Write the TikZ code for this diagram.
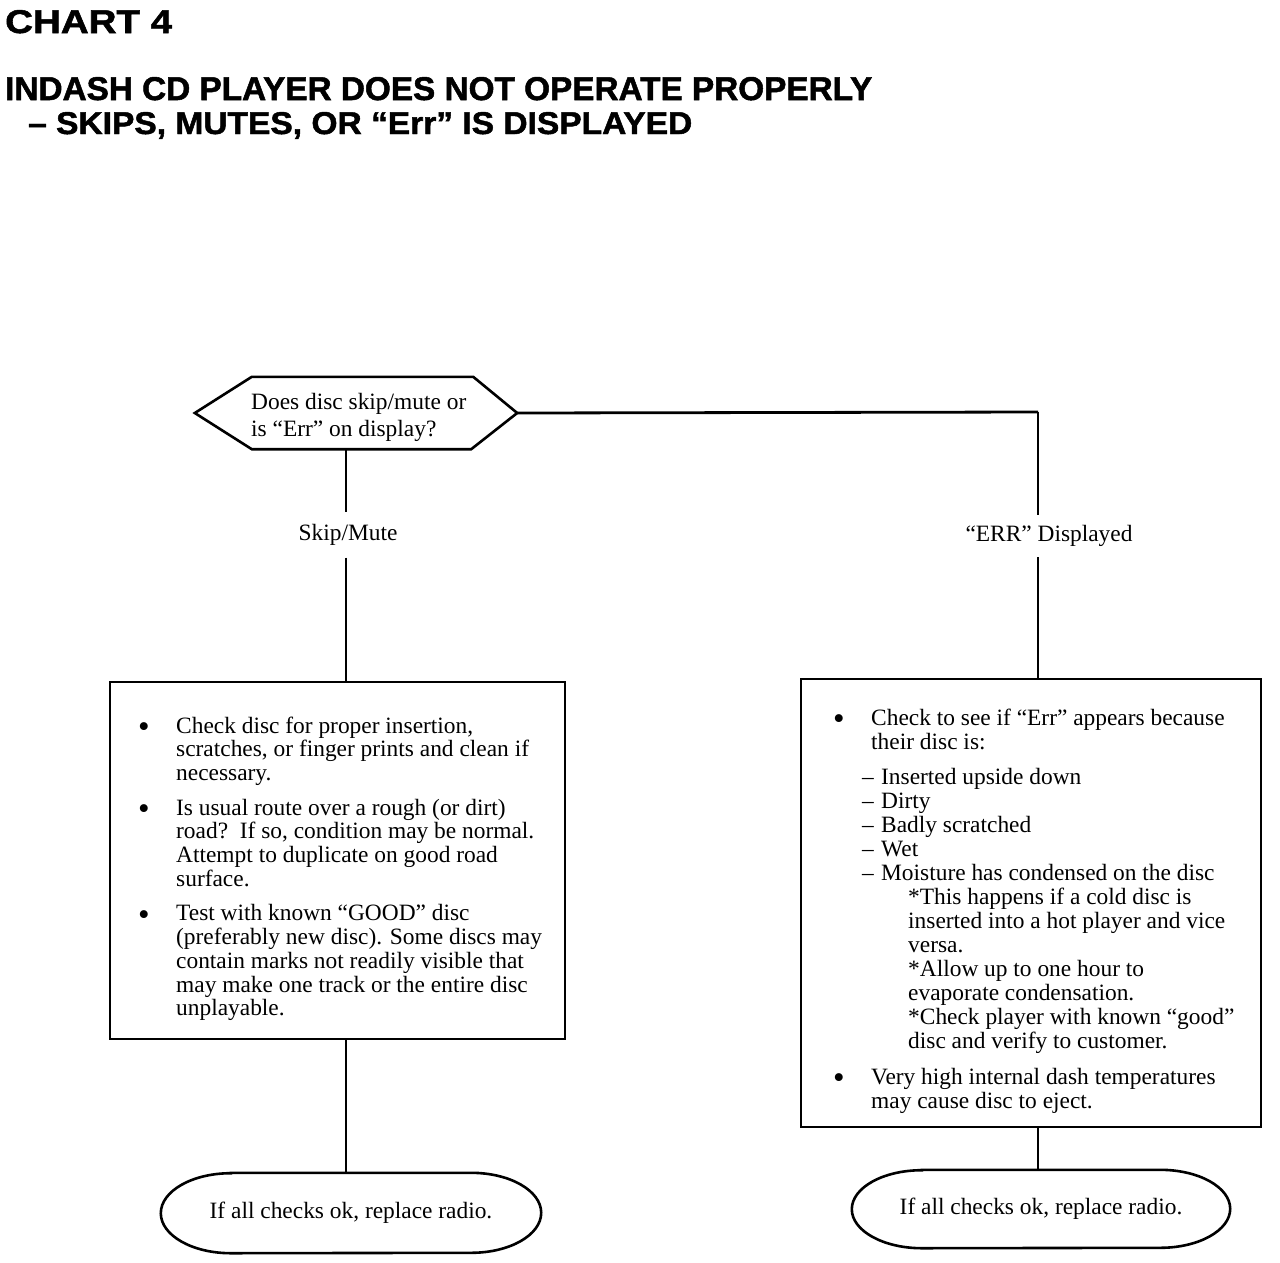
\documentclass[tikz,border=0pt]{standalone}
\usepackage{fontspec}
\setmainfont{Liberation Serif}
\newfontfamily\hfont{Liberation Sans}[BoldFeatures={FakeBold=1.5}]
\usepackage{graphicx}
\begin{document}
\begin{tikzpicture}[x=1pt,y=-1pt,
  every node/.style={inner sep=0pt, font=\fontsize{23.4}{23.7}\selectfont},
  boxline/.style={line width=2.6pt},
  conn/.style={line width=2pt},
  frame/.style={draw, line width=2.6pt, minimum width=#1}
]
\useasboundingbox (0,0) rectangle (1280,1262);
\newcommand{\bl}{\makebox[38pt][l]{\raisebox{-4.5pt}{\fontsize{33}{24}\selectfont\textbullet}}}
\newcommand{\tx}{\hspace*{38pt}}
\newcommand{\dl}{\hspace*{29pt}\makebox[19pt][l]{–}}
\newcommand{\al}{\hspace*{75pt}}

% titles
\node[anchor=base west] (t0) at (5,33) {\resizebox{167pt}{23pt}{\hfont\bfseries CHART 4}};
\node[anchor=base west] (t1) at (5,100) {\resizebox{867pt}{23pt}{\hfont\bfseries INDASH CD PLAYER DOES NOT OPERATE PROPERLY}};
\node[anchor=base west] (t2) at (28,134) {\resizebox{664pt}{22pt}{\hfont\bfseries – SKIPS, MUTES, OR “Err” IS DISPLAYED}};

% decision hexagon
\node[minimum width=322pt, minimum height=72pt] (q) at (356,413) {};
\draw[boxline, line join=miter] (q.west) -- ([xshift=57pt]q.north west) -- ([xshift=-44pt]q.north east) -- (q.east)
  -- ([xshift=-46pt]q.south east) -- ([xshift=57pt]q.south west) -- cycle;
\node[anchor=base west] (qt) at (251,409) {\fontsize{23.4}{27}\selectfont
  \begin{tabular}[t]{@{}l@{}}Does disc skip/mute or\\ is “Err” on display?\end{tabular}};
\coordinate (qS) at ([xshift=-10pt]q.south);
\coordinate (rc) at (1038,412);

% branch labels
\node[minimum height=45pt] (skip) at (348,535) {Skip/Mute};
\node[minimum height=42pt] (err) at (1049,536) {“ERR” Displayed};

% boxes
\node[frame=455pt, minimum height=357pt] (lbox) at (337.5,860.5) {};
\node[frame=460pt, minimum height=448pt] (rbox) at (1031,903) {};

\node[anchor=base west] (ltext) at (138,733) {\fontsize{23.4}{23.7}\selectfont
\begin{tabular}[t]{@{}l@{}}
\bl Check disc for proper insertion,\\
\tx scratches, or finger prints and clean if\\
\tx necessary.\\[11pt]
\bl Is usual route over a rough (or dirt)\\
\tx road?\ \ If so, condition may be normal.\\
\tx Attempt to duplicate on good road\\
\tx surface.\\[11pt]
\bl Test with known “GOOD” disc\\
\tx (preferably new disc). Some discs may\\
\tx contain marks not readily visible that\\
\tx may make one track or the entire disc\\
\tx unplayable.
\end{tabular}};

\node[anchor=base west] (rtext) at (833,725) {\fontsize{23.4}{24}\selectfont
\begin{tabular}[t]{@{}l@{}}
\bl Check to see if “Err” appears because\\
\tx their disc is:\\[11pt]
\dl Inserted upside down\\
\dl Dirty\\
\dl Badly scratched\\
\dl Wet\\
\dl Moisture has condensed on the disc\\
\al *This happens if a cold disc is\\
\al inserted into a hot player and vice\\
\al versa.\\
\al *Allow up to one hour to\\
\al evaporate condensation.\\
\al *Check player with known “good”\\
\al disc and verify to customer.\\[12pt]
\bl Very high internal dash temperatures\\
\tx may cause disc to eject.
\end{tabular}};

% terminals
\node[minimum width=380pt, minimum height=80pt] (e1) at (351,1213) {If all checks ok, replace radio.};
\node[minimum width=378pt, minimum height=78pt] (e2) at (1041,1209) {If all checks ok, replace radio.};
\draw[boxline] ([xshift=70pt]e1.north west) -- ([xshift=-70pt]e1.north east)
  arc[start angle=90,end angle=-90,x radius=70pt,y radius=40pt]
  -- ([xshift=70pt]e1.south west)
  arc[start angle=270,end angle=90,x radius=70pt,y radius=40pt] -- cycle;
\draw[boxline] ([xshift=70pt]e2.north west) -- ([xshift=-70pt]e2.north east)
  arc[start angle=90,end angle=-90,x radius=70pt,y radius=39pt]
  -- ([xshift=70pt]e2.south west)
  arc[start angle=270,end angle=90,x radius=70pt,y radius=39pt] -- cycle;

% connectors
\draw[conn] (qS) -- (qS |- skip.north);
\draw[conn] (qS |- skip.south) -- (qS |- lbox.north);
\draw[conn] (qS |- lbox.south) -- (qS |- e1.north);
\draw[line width=2.8pt] (q.east) -- (rc);
\draw[conn] (rc) -- (rc |- err.north);
\draw[conn] (rc |- err.south) -- (rc |- rbox.north);
\draw[conn] (rc |- rbox.south) -- (rc |- e2.north);
\end{tikzpicture}
\end{document}
